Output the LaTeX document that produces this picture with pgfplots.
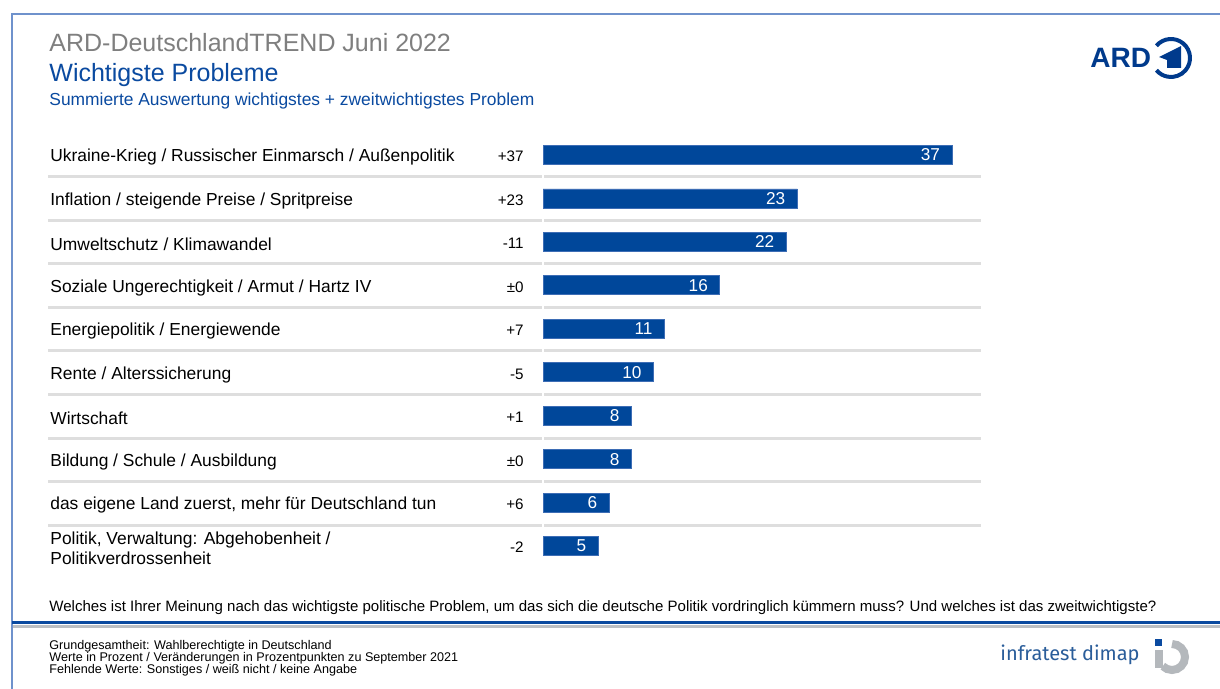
\documentclass[border=0pt]{standalone}
\usepackage{pgfplots}
\pgfplotsset{compat=1.18}
\usepackage{fontspec}
\setmainfont{Liberation Sans}
\newfontfamily\logofont{Fira Sans}
\definecolor{barblue}{HTML}{00479A}
\definecolor{baredge}{HTML}{3D6DB5}
\definecolor{titlegray}{HTML}{7F7F7F}
\definecolor{titleblue}{HTML}{0A4AA0}
\definecolor{framblue}{HTML}{6F92CC}
\definecolor{sepgray}{HTML}{DEDEDE}
\definecolor{linegray}{HTML}{BBBFC4}
\definecolor{ardblue}{HTML}{003A8C}
\definecolor{idblue}{HTML}{2A5D9A}
\definecolor{idgray}{HTML}{B4B8BC}
\begin{document}
\begin{tikzpicture}[x=0.5pt,y=-0.5pt]
\useasboundingbox[fill=white] (0,0) rectangle (1220,689);
% frame
\draw[framblue, line width=1pt] (12,689) -- (12,14) -- (1220,14);
\draw[titleblue, line width=1.5pt] (12,622) -- (1220,622);
\draw[linegray, line width=1.5pt] (13,626.5) -- (1220,626.5);
% titles
\node[anchor=west, text=titlegray, font=\fontsize{12.5}{14}\selectfont, inner sep=0pt] at (49,43) {ARD-DeutschlandTREND Juni 2022};
\node[anchor=west, text=titleblue, font=\fontsize{12.5}{14}\selectfont, inner sep=0pt] at (49,75) {Wichtigste Probleme};
\node[anchor=west, text=titleblue, font=\fontsize{8.7}{10}\selectfont, inner sep=0pt] at (49,101) {Summierte Auswertung wichtigstes + zweitwichtigstes Problem};
% ARD logo
\node[anchor=west, text=ardblue, font=\fontsize{14}{16}\bfseries\selectfont, inner sep=0pt] at (1090,58) {ARD};
\draw[ardblue, line width=2pt] (1171,58) ++(-140:19) arc[start angle=-140, end angle=140, radius=19];
\fill[ardblue] (1159,57) -- (1181,46) -- (1181,68) -- (1167,68) -- (1167,60) -- cycle;
% separators
\foreach \yy in {177,220.5,264,307.5,351,394.5,438,481.5,525}{
  \draw[sepgray, line width=1.5pt] (48,\yy) -- (542,\yy);
  \draw[sepgray, line width=1.5pt] (544,\yy) -- (981,\yy);
}
\coordinate (AX) at (543,133.3);
\begin{axis}[
  at={(AX)}, anchor=north west,
  scale only axis, width=221.1pt, height=217.2pt,
  xmin=0, xmax=40, ymin=-0.5, ymax=9.5, y dir=reverse,
  hide axis, clip=false,
  xbar, bar width=9.5pt,
  nodes near coords,
  every node near coord/.append style={anchor=east, text=white, font=\fontsize{8.6}{10}\selectfont, xshift=-2.5pt, /pgf/number format/assume math mode=true},
]
\addplot[fill=barblue, draw=baredge, line width=0.4pt] coordinates {
 (37,0) (23,1) (22,2) (16,3) (11,4) (10,5) (8,6) (8,7) (6,8) (5,9)
};
\end{axis}
% category labels
\tikzset{cat/.style={anchor=west, font=\fontsize{8.7}{10}\selectfont, inner sep=0pt}}
\node[cat] at (50,157) {Ukraine-Krieg / Russischer Einmarsch / Außenpolitik};
\node[cat] at (50,201) {Inflation / steigende Preise / Spritpreise};
\node[cat] at (50,244) {Umweltschutz / Klimawandel};
\node[cat] at (50,288) {Soziale Ungerechtigkeit / Armut / Hartz IV};
\node[cat] at (50,331) {Energiepolitik / Energiewende};
\node[cat] at (50,375) {Rente / Alterssicherung};
\node[cat] at (50,418) {Wirtschaft};
\node[cat] at (50,462) {Bildung / Schule / Ausbildung};
\node[cat] at (50,505) {das eigene Land zuerst, mehr für Deutschland tun};
\node[cat, align=left] at (50,548) {Politik, Verwaltung: Abgehobenheit /\\Politikverdrossenheit};
% changes
\tikzset{chg/.style={anchor=east, font=\fontsize{7.6}{9}\selectfont, inner sep=0pt}}
\node[chg] at (524,156) {+37};
\node[chg] at (524,200) {+23};
\node[chg] at (524,243) {-11};
\node[chg] at (524,287) {±0};
\node[chg] at (524,330) {+7};
\node[chg] at (524,374) {-5};
\node[chg] at (524,417) {+1};
\node[chg] at (524,461) {±0};
\node[chg] at (524,504) {+6};
\node[chg] at (524,547) {-2};
% question
\node[anchor=west, font=\fontsize{7.52}{9}\selectfont, inner sep=0pt] at (49,608) {Welches ist Ihrer Meinung nach das wichtigste politische Problem, um das sich die deutsche Politik vordringlich kümmern muss? Und welches ist das zweitwichtigste?};
% footer
\tikzset{foot/.style={anchor=west, font=\fontsize{6.3}{7}\selectfont, inner sep=0pt}}
\node[foot] at (49,646) {Grundgesamtheit: Wahlberechtigte in Deutschland};
\node[foot] at (49,658) {Werte in Prozent / Veränderungen in Prozentpunkten zu September 2021};
\node[foot] at (49,670) {Fehlende Werte: Sonstiges / weiß nicht / keine Angabe};
% infratest dimap logo
\node[anchor=west, text=idblue, font=\logofont\fontsize{10}{12}\selectfont, inner sep=0pt] at (1000,655) {infratest dimap};
\fill[titleblue] (1155,639) rectangle (1162,646);
\draw[idgray, line width=4pt] (1172,657) ++(-90:13) arc[start angle=-90, end angle=135, radius=13];
\fill[idgray] (1155,650) rectangle (1163,668);
\end{tikzpicture}
\end{document}
